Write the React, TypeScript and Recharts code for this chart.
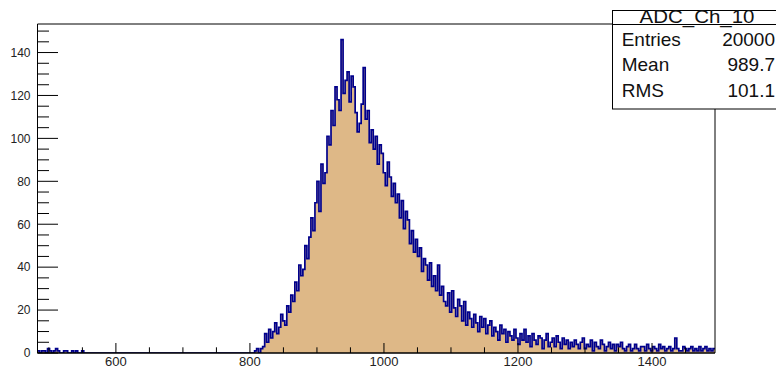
import React from "react";
import { ComposedChart, Area, XAxis, YAxis, ReferenceArea } from "recharts";

// ADC channel 10 spectrum: counts per 3-count-wide bin starting at 483
const binStart = 483;
const binWidth = 3;
const counts: number[] = [
  // 483 - 555: pedestal noise
  1, 0, 1, 1, 0, 2, 1, 0, 1, 2,
  1, 0, 0, 1, 1, 0, 0, 1, 0, 1,
  0, 0, 1, 0,
  // 555 - 804: empty
  0, 0, 0, 0, 0, 0, 0, 0, 0, 0,
  0, 0, 0, 0, 0, 0, 0, 0, 0, 0,
  0, 0, 0, 0, 0, 0, 0, 0, 0, 0,
  0, 0, 0, 0, 0, 0, 0, 0, 0, 0,
  0, 0, 0, 0, 0, 0, 0, 0, 0, 0,
  0, 0, 0, 0, 0, 0, 0, 0, 0, 0,
  0, 0, 0, 0, 0, 0, 0, 0, 0, 0,
  0, 0, 0, 0, 0, 0, 0, 0, 0, 0,
  0, 0, 0,
  // 804 onwards: signal peak and tail
  0, 1, 2, 0, 2, 3, 9, 5, 11, 7,
  10, 14, 9, 12, 18, 15, 13, 22, 19, 27,
  24, 33, 29, 41, 36, 39, 50, 44, 54, 63,
  57, 70, 80, 66, 88, 79, 84, 101, 97, 113,
  106, 124, 118, 113, 146, 121, 127, 131, 117, 129,
  124, 112, 103, 107, 116, 133, 109, 113, 98, 104,
  95, 101, 88, 97, 93, 84, 78, 89, 82, 73,
  79, 70, 74, 63, 71, 58, 66, 62, 51, 57,
  47, 53, 45, 49, 38, 44, 41, 34, 42, 31,
  36, 29, 41, 27, 31, 24, 22, 28, 19, 29,
  21, 17, 25, 22, 15, 24, 13, 19, 16, 12,
  18, 14, 10, 17, 12, 16, 9, 13, 15, 8,
  12, 10, 6, 13, 9, 11, 5, 10, 8, 6,
  11, 7, 4, 9, 6, 11, 5, 8, 3, 9,
  6, 4, 8, 7, 2, 6, 9, 3, 5, 7,
  3, 8, 5, 2, 7, 4, 6, 2, 5, 3,
  6, 4, 2, 5, 7, 2, 4, 3, 6, 1,
  5, 3, 2, 6, 4, 1, 3, 5, 2, 4,
  1, 4, 3, 5, 2, 1, 3, 4, 1, 2,
  4, 2, 1, 3, 3, 1, 4, 2, 1, 3,
  2, 1, 4, 2, 3, 1, 2, 3, 1, 2,
  7, 2, 1, 1, 3, 2, 1, 2, 3, 1,
  2, 1, 3, 1, 2, 3, 1, 2, 1, 2,
];

const xTicks = [500, 550, 600, 650, 700, 750, 800, 850, 900, 950, 1000, 1050, 1100, 1150, 1200, 1250, 1300, 1350, 1400, 1450];
const xLabelled = [600, 800, 1000, 1200, 1400];
const yTicks = [0, 5, 10, 15, 20, 25, 30, 35, 40, 45, 50, 55, 60, 65, 70, 75, 80, 85, 90, 95, 100, 105, 110, 115, 120, 125, 130, 135, 140, 145, 150];
const yLabelled = [0, 20, 40, 60, 80, 100, 120, 140];

const statsTitle = "ADC_Ch_10";
const statsRows = [
  { name: "Entries", value: "20000" },
  { name: "Mean", value: "989.7" },
  { name: "RMS", value: "101.1" },
];

const xMin = binStart;
const xMax = binStart + binWidth * counts.length;
const yMax = 153.3;

// step-histogram points: one per bin low edge, plus the closing upper edge
const histData = counts
  .map((n, i) => ({ x: binStart + i * binWidth, n }))
  .concat([{ x: xMax, n: counts[counts.length - 1] }]);

const FONT = "'Liberation Sans', Arial, Helvetica, sans-serif";

// ticks point into the frame, as in ROOT
const YTick = (props: any) => {
  const { x, y, payload } = props;
  const v = payload.value;
  const major = yLabelled.includes(v);
  return (
    <g>
      <line x1={x} x2={x + (major ? 20.5 : 11.5)} y1={y} y2={y} stroke="#000" strokeWidth={1} />
      {major && (
        <text x={x - 7} y={y} dy="0.36em" textAnchor="end" fontSize={12} fill="#222" fontFamily={FONT}>
          {v}
        </text>
      )}
    </g>
  );
};

const XTick = (props: any) => {
  const { x, y, payload } = props;
  const v = payload.value;
  const major = xLabelled.includes(v);
  return (
    <g>
      <line x1={x} x2={x} y1={y} y2={y - (major ? 10 : 5.7)} stroke="#000" strokeWidth={1} />
      {major && (
        <text x={x} y={y + 12.5} textAnchor="middle" fontSize={13} fill="#222" fontFamily={FONT}>
          {v}
        </text>
      )}
    </g>
  );
};

export default function App() {
  return (
    <div style={{ position: "absolute", left: 0, top: 0, width: 776, height: 369, background: "#fff" }}>
      <ComposedChart
        width={776}
        height={369}
        data={histData}
        margin={{ top: 24, right: 61, bottom: 0, left: 7.5 }}
      >
        <XAxis
          type="number"
          dataKey="x"
          domain={[xMin, xMax]}
          ticks={xTicks}
          interval={0}
          tick={<XTick />}
          tickLine={false}
          tickSize={0}
          tickMargin={0}
          height={16}
          axisLine={{ stroke: "#000" }}
          allowDataOverflow
        />
        <YAxis
          type="number"
          domain={[0, yMax]}
          ticks={yTicks}
          interval={0}
          tick={<YTick />}
          tickLine={false}
          tickSize={0}
          tickMargin={0}
          width={30}
          axisLine={{ stroke: "#000" }}
          allowDataOverflow
        />
        <Area
          type="stepAfter"
          dataKey="n"
          fill="#deb887"
          fillOpacity={1}
          stroke="#00008c"
          strokeWidth={1.7}
          dot={false}
          activeDot={false}
          isAnimationActive={false}
        />
        <ReferenceArea
          x1={xMin}
          x2={xMax}
          y1={0}
          y2={yMax}
          fill="none"
          stroke="#000"
          strokeWidth={1}
          ifOverflow="visible"
        />
      </ComposedChart>
      <svg
        width={776}
        height={369}
        style={{ position: "absolute", left: 0, top: 0, pointerEvents: "none" }}
      >
        <rect x={612.5} y={10.5} width={170} height={98.5} fill="#fff" stroke="#000" strokeWidth={1} />
        <line x1={612.5} x2={782} y1={24.5} y2={24.5} stroke="#000" strokeWidth={1} />
        <text
          x={697}
          y={23.3}
          textAnchor="middle"
          fontSize={18}
          fill="#111"
          fontFamily={FONT}
          textLength={115}
          lengthAdjust="spacingAndGlyphs"
        >
          {statsTitle}
        </text>
        {statsRows.map((r, i) => (
          <g key={r.name}>
            <text x={621.7} y={45.7 + i * 25.5} fontSize={19} fill="#111" fontFamily={FONT}>
              {r.name}
            </text>
            <text x={775} y={45.7 + i * 25.5} fontSize={19} fill="#111" textAnchor="end" fontFamily={FONT}>
              {r.value}
            </text>
          </g>
        ))}
      </svg>
    </div>
  );
}
